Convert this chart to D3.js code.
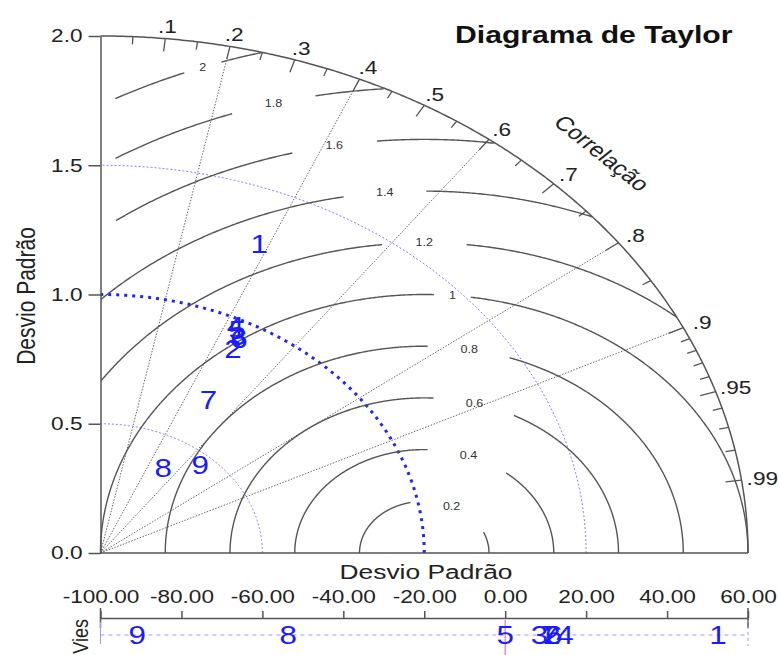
<!DOCTYPE html>
<html>
<head>
  <meta charset="utf-8">
  <title>Diagrama de Taylor</title>
  <script src="https://d3js.org/d3.v7.min.js"></script>
  <style>
    body { margin: 0; background: #fff; }
    text { font-family: "Liberation Sans", Arial, sans-serif; }
  </style>
</head>
<body>
  <div id="chart"></div>
  <script>
    // model labels, standard deviation, correlation and bias
    var models = ["1", "2", "3", "4", "5", "6", "7", "8", "9"];
    var stdDev = [1.29, 0.89, 0.94, 0.97, 0.96, 0.93, 0.68, 0.38, 0.46];
    var correl = [0.38, 0.46, 0.45, 0.43, 0.44, 0.46, 0.49, 0.51, 0.67];
    var bias = [52.6, 11.5, 8.5, 14.8, 0.0, 12.0, 11.0, -53.6, -90.9];

    var stdTicks = [0, 0.5, 1.0, 1.5, 2.0];
    var biasTicks = [-100, -80, -60, -40, -20, 0, 20, 40, 60];
    var corrLabels = [0.1, 0.2, 0.3, 0.4, 0.5, 0.6, 0.7, 0.8, 0.9, 0.95, 0.99];
    var corrLines = [0.2, 0.4, 0.6, 0.8, 0.9];
    var rmsLevels = [0.2, 0.4, 0.6, 0.8, 1.0, 1.2, 1.4, 1.6, 1.8, 2.0];
    var stdCircles = [0.5, 1.0, 1.5];
    var refStd = 1.0;

    var W = 779, H = 655, SX = 1.256;
    var blue = "#1a1aff", axisCol = "#555";

    var svg = d3.select("#chart").append("svg")
      .attr("width", W).attr("height", H);

    var x = d3.scaleLinear().domain([0, 2]).range([100.5, 748]);
    var y = d3.scaleLinear().domain([0, 2]).range([553, 36]);
    var bx = d3.scaleLinear().domain([-100, 60]).range([100.5, 748]);

    function polar(r, c) {
      return [x(r * c), y(r * Math.sqrt(Math.max(0, 1 - c * c)))];
    }

    // the picture is stretched sideways, so text is too
    function stext(px, py, str, size, extra) {
      return svg.append("text")
        .attr("transform", "translate(" + px + "," + py + ") scale(" + SX + ",1)" + (extra || ""))
        .style("font-size", size + "px")
        .text(str);
    }

    var line = d3.line().defined(function(d) { return d.ok; })
      .x(function(d) { return d.px; }).y(function(d) { return d.py; });

    // correlation rays
    svg.selectAll(".ray").data(corrLines).enter().append("line")
      .attr("x1", x(0)).attr("y1", y(0))
      .attr("x2", function(c) { return polar(2, c)[0]; })
      .attr("y2", function(c) { return polar(2, c)[1]; })
      .attr("stroke", "#666").attr("stroke-width", 1)
      .attr("stroke-dasharray", "1.5,1.5");

    // std circles (reference bold)
    stdCircles.forEach(function(r) {
      var pts = d3.range(0, 181).map(function(i) {
        var t = i / 180 * Math.PI / 2;
        return { px: x(r * Math.cos(t)), py: y(r * Math.sin(t)), ok: true };
      });
      var isRef = r === refStd;
      svg.append("path").attr("d", line(pts)).attr("fill", "none")
        .attr("stroke", isRef ? "#2222ff" : "#8080ff")
        .attr("stroke-width", isRef ? 3 : 1)
        .attr("stroke-dasharray", isRef ? "3,5" : "2,2");
    });

    // RMS difference arcs centred on the reference point
    rmsLevels.forEach(function(L) {
      var ang = (60 + 25 * L) * Math.PI / 180;
      var lx = x(1 + L * Math.cos(ang)), ly = y(L * Math.sin(ang));
      var txt = String(L === 1 || L === 2 ? L.toFixed(0) : L.toFixed(1));
      var gap = 5 + 12 * txt.length;
      var xMin = L >= 1.5 ? 0.045 : 0;
      var pts = d3.range(0, 721).map(function(i) {
        var t = i / 720 * Math.PI;
        var dx = 1 + L * Math.cos(t), dy = L * Math.sin(t);
        var px = x(dx), py = y(dy);
        var ok = dx >= xMin && dx * dx + dy * dy <= 4.0001 &&
          Math.hypot(px - lx, py - ly) > gap;
        return { px: px, py: py, ok: ok };
      });
      svg.append("path").attr("d", line(pts)).attr("fill", "none")
        .attr("stroke", "#555").attr("stroke-width", 1.4);
      stext(lx, ly, txt, 10).attr("text-anchor", "middle")
        .attr("dominant-baseline", "central").attr("fill", "#333");
    });

    // outer arc
    var outer = d3.range(0, 361).map(function(i) {
      var t = i / 360 * Math.PI / 2;
      return { px: x(2 * Math.cos(t)), py: y(2 * Math.sin(t)), ok: true };
    });
    svg.append("path").attr("d", line(outer)).attr("fill", "none")
      .attr("stroke", axisCol).attr("stroke-width", 1.5);

    // correlation ticks
    var corrTicks = d3.range(1, 19).map(function(i) { return i * 0.05; })
      .concat(d3.range(91, 100).map(function(i) { return i / 100; }));
    corrTicks.forEach(function(c) {
      var major = corrLabels.some(function(m) { return Math.abs(m - c) < 1e-6; });
      var p0 = polar(2, c), p1 = polar(major ? 1.95 : 1.97, c);
      svg.append("line").attr("x1", p0[0]).attr("y1", p0[1])
        .attr("x2", p1[0]).attr("y2", p1[1])
        .attr("stroke", axisCol).attr("stroke-width", 1.3);
    });
    corrLabels.forEach(function(c) {
      var p = polar(2, c), s = Math.sqrt(1 - c * c);
      stext(p[0] + 21 * c, p[1] - 12 * s, String(c).replace("0.", "."), 18)
        .attr("text-anchor", "middle").attr("dominant-baseline", "central")
        .attr("fill", "#222");
    });

    // x axis line (std)
    svg.append("line").attr("x1", x(0)).attr("x2", x(2))
      .attr("y1", y(0)).attr("y2", y(0))
      .attr("stroke", axisCol).attr("stroke-width", 1.5);

    // y axis
    var yAxis = svg.append("g").attr("transform", "translate(" + x(0) + ",0)")
      .call(d3.axisLeft(y).tickValues(stdTicks).tickFormat(function(d) { return d.toFixed(1); })
        .tickSize(12).tickSizeOuter(0));
    yAxis.selectAll("path, line").attr("stroke", axisCol).attr("stroke-width", 1.5);
    yAxis.selectAll("text").attr("x", -18 / SX).attr("transform", "scale(" + SX + ",1)")
      .style("font-size", "18px").attr("fill", "#222")
      .style("font-family", "Liberation Sans, Arial, sans-serif");

    // titles
    stext(455, 43, "Diagrama de Taylor", 24).style("font-weight", "bold").attr("fill", "#111");
    stext(35, 296, "Desvio Padrão", 21, " rotate(-90)").attr("text-anchor", "middle").attr("fill", "#222");
    stext(426, 579, "Desvio Padrão", 21).attr("text-anchor", "middle").attr("fill", "#222");
    stext(602, 153, "Correlação", 20, " rotate(45)").attr("text-anchor", "middle")
      .attr("dominant-baseline", "central").attr("fill", "#222");

    // model points on the diagram
    models.forEach(function(m, i) {
      var p = polar(stdDev[i], correl[i]);
      stext(p[0], p[1], m, 25).attr("text-anchor", "middle")
        .attr("dominant-baseline", "central").attr("fill", blue);
    });

    // bias axis
    var biasY = 618;
    var bAxis = svg.append("g").attr("transform", "translate(0," + biasY + ")")
      .call(d3.axisTop(bx).tickValues(biasTicks).tickFormat(function(d) { return d.toFixed(2); })
        .tickSize(7).tickSizeOuter(0).tickPadding(8));
    bAxis.selectAll("path, line").attr("stroke", axisCol).attr("stroke-width", 1.5);
    bAxis.selectAll("text").attr("transform", "scale(" + SX + ",1)")
      .style("font-size", "18px").attr("fill", "#222")
      .style("font-family", "Liberation Sans, Arial, sans-serif");
    [-100, 60].forEach(function(v) {
      svg.append("line").attr("x1", bx(v)).attr("x2", bx(v))
        .attr("y1", biasY - 10).attr("y2", biasY + 10)
        .attr("stroke", axisCol).attr("stroke-width", 1.5);
    });

    svg.append("line").attr("x1", bx(-100)).attr("x2", bx(60))
      .attr("y1", 635).attr("y2", 635)
      .attr("stroke", "#9a9aff").attr("stroke-width", 1).attr("stroke-dasharray", "4,4");
    svg.append("line").attr("x1", bx(-100)).attr("x2", bx(-100))
      .attr("y1", 622).attr("y2", 644).attr("stroke", "#9a9aff").attr("stroke-width", 1);
    svg.append("line").attr("x1", bx(60)).attr("x2", bx(60))
      .attr("y1", 620).attr("y2", 646).attr("stroke", "#9a9aff").attr("stroke-width", 1)
      .attr("stroke-dasharray", "3,3");
    svg.append("line").attr("x1", bx(0)).attr("x2", bx(0))
      .attr("y1", 620).attr("y2", 655).attr("stroke", "#e070e0").attr("stroke-width", 1.2);

    models.forEach(function(m, i) {
      stext(bx(bias[i]), 635, m, 25).attr("text-anchor", "middle")
        .attr("dominant-baseline", "central").attr("fill", blue);
    });

    stext(88, 619, "Vies", 18, " rotate(-90)").attr("text-anchor", "end").attr("fill", "#222");
  </script>
</body>
</html>
